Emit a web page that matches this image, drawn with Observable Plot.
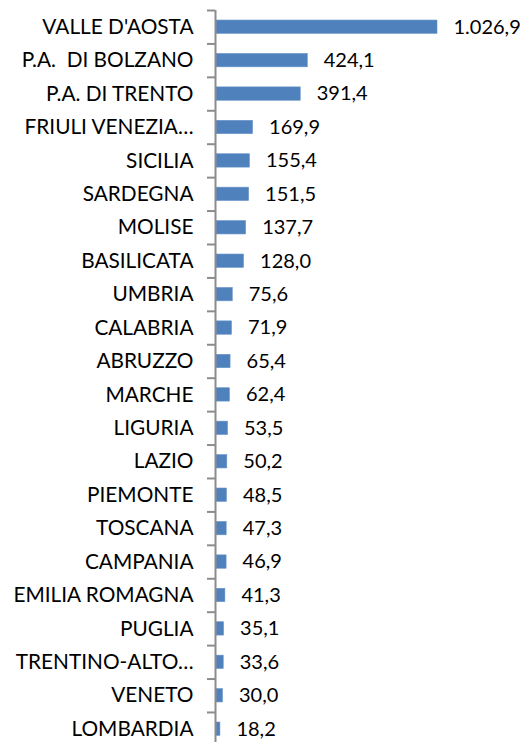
<!DOCTYPE html>
<html>
<head>
<meta charset="utf-8">
<script src="https://cdn.jsdelivr.net/npm/d3@7"></script>
<script src="https://cdn.jsdelivr.net/npm/@observablehq/plot@0.6"></script>
<style>
  html, body { margin: 0; padding: 0; background: #fff; }
  svg { display: block; }
</style>
</head>
<body>
<div id="chart"></div>
<script>
const regions = [
  "VALLE D'AOSTA", "P.A.  DI BOLZANO", "P.A. DI TRENTO", "FRIULI VENEZIA…",
  "SICILIA", "SARDEGNA", "MOLISE", "BASILICATA", "UMBRIA", "CALABRIA",
  "ABRUZZO", "MARCHE", "LIGURIA", "LAZIO", "PIEMONTE", "TOSCANA",
  "CAMPANIA", "EMILIA ROMAGNA", "PUGLIA", "TRENTINO-ALTO…", "VENETO", "LOMBARDIA"
];
const values = [
  1026.9, 424.1, 391.4, 169.9, 155.4, 151.5, 137.7, 128.0, 75.6, 71.9,
  65.4, 62.4, 53.5, 50.2, 48.5, 47.3, 46.9, 41.3, 35.1, 33.6, 30.0, 18.2
];

const data = regions.map((r, i) => ({region: r, value: values[i]}));
const it = d3.formatLocale({decimal: ",", thousands: ".", grouping: [3], currency: ["€", ""]});
const fmt = it.format(",.1f");

const yRange = [10, 745.4];
const step = (yRange[1] - yRange[0]) / regions.length;
const font = "Lato, 'Open Sans', sans-serif";

const chart = Plot.plot({
  width: 526,
  height: 742,
  marginTop: 10,
  marginBottom: 0,
  marginLeft: 216,
  marginRight: 89,
  style: {fontFamily: font, fontSize: "20.8px", color: "#000", background: "#fff"},
  x: {domain: [0, d3.max(values)], axis: null},
  y: {domain: regions, range: yRange, paddingInner: 0.6, paddingOuter: 0.3, round: false, label: null},
  marks: [
    Plot.barX(data, {y: "region", x: "value", fill: "#4f81bd", stroke: "#6a94c8", strokeWidth: 0.6}),
    Plot.text(data, {y: "region", x: "value", text: d => fmt(d.value), textAnchor: "start", dx: 16, fontSize: 20, fill: "#000"}),
    Plot.ruleX([0], {dx: -1, stroke: "#8c8c8c", strokeWidth: 2}),
    Plot.ruleY(regions, {y: d => d, x1: 0, x2: 0, insetLeft: -8, dx: -1, dy: -step / 2, stroke: "#8c8c8c", strokeWidth: 2}),
    Plot.axisY({tickSize: 0, tickPadding: 23, fontSize: 20.8, fill: "#000", textAnchor: "end"})
  ]
});
document.getElementById("chart").appendChild(chart);
</script>
</body>
</html>
